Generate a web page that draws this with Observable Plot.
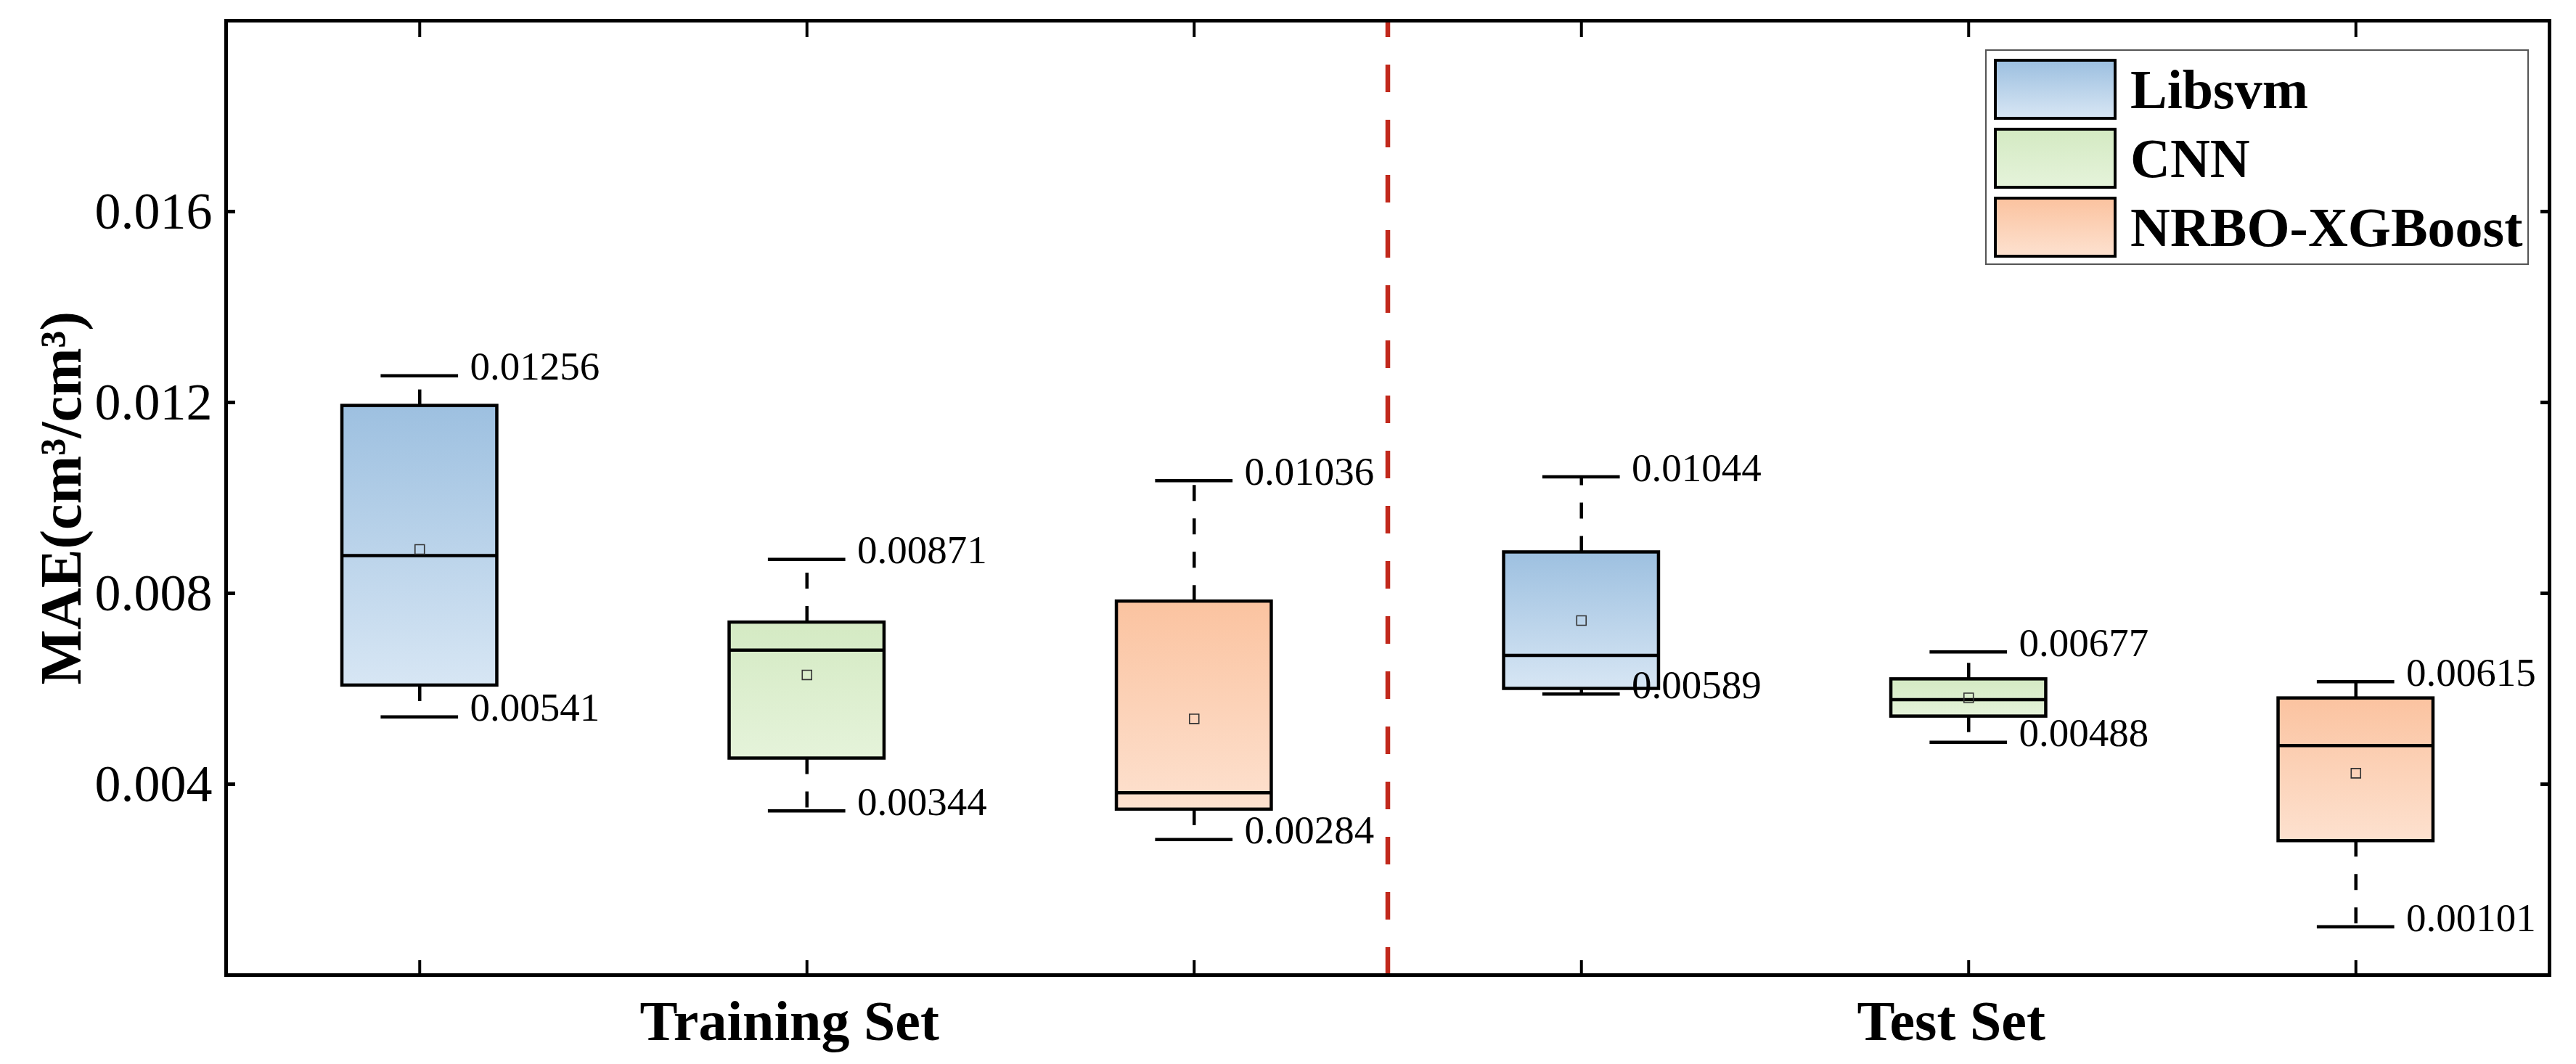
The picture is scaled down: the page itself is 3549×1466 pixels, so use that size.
<!DOCTYPE html>
<html>
<head>
<meta charset="utf-8">
<script src="https://cdn.jsdelivr.net/npm/d3@7"></script>
<script src="https://cdn.jsdelivr.net/npm/@observablehq/plot@0.6"></script>
<style>
  body { margin: 0; background: #fff; }
  #chart { position: relative; width: 3549px; height: 1466px; font-family: "Liberation Serif", "Times New Roman", serif; color: #000; }
  #legend { position: absolute; left: 2735px; top: 68px; width: 749px; height: 297px; box-sizing: border-box; border: 2px solid #555; background: #fff; }
  .sw { position: absolute; left: 10px; width: 169px; height: 84px; box-sizing: border-box; border: 4px solid #000; }
  .lt { position: absolute; left: 198px; height: 84px; line-height: 84px; font-size: 76px; font-weight: bold; white-space: nowrap; }
</style>
</head>
<body>
<div id="chart"></div>
<script>
// ---- data ----
const models = ["Libsvm", "CNN", "NRBO-XGBoost"];
const sets = ["Training Set", "Test Set"];
const boxModel = ["Libsvm", "CNN", "NRBO-XGBoost", "Libsvm", "CNN", "NRBO-XGBoost"];
const boxSet = ["Training Set", "Training Set", "Training Set", "Test Set", "Test Set", "Test Set"];
const whiskerMax = [0.01256, 0.00871, 0.01036, 0.01044, 0.00677, 0.00615];
const whiskerMin = [0.00541, 0.00344, 0.00284, 0.00589, 0.00488, 0.00101];
const q3 = [0.01193, 0.00739, 0.00783, 0.00886, 0.00620, 0.00580];
const median = [0.00879, 0.00681, 0.00382, 0.00670, 0.00577, 0.00481];
const q1 = [0.00607, 0.00454, 0.00347, 0.00600, 0.00542, 0.00281];
const mean = [0.00892, 0.00629, 0.00537, 0.00743, 0.00581, 0.00423];
const yTicks = [0.004, 0.008, 0.012, 0.016];
const yTitle = "MAE(cm³/cm³)";
const gradTop = ["#9dc0e0", "#d4eac3", "#fbc3a0"];
const gradBottom = ["#d7e6f4", "#e5f3da", "#fde1cf"];

// ---- build table ----
const boxes = boxModel.map((m, i) => ({
  pos: i + 1, model: m, set: boxSet[i],
  max: whiskerMax[i], min: whiskerMin[i], q3: q3[i], med: median[i], q1: q1[i], mean: mean[i]
}));
const setPos = sets.map(s => d3.mean(boxes.filter(b => b.set === s), b => b.pos));
const lastTrain = d3.max(boxes.filter(b => b.set === sets[0]), b => b.pos);
const firstTest = d3.min(boxes.filter(b => b.set === sets[1]), b => b.pos);
const divider = [(lastTrain + firstTest) / 2];
const gid = m => "grad-" + models.indexOf(m);

const HB = 0.2, HC = 0.1; // half box width, half cap width (x units)
const SW = 4.5;

const defs = () => {
  const ns = "http://www.w3.org/2000/svg";
  const d = document.createElementNS(ns, "defs");
  models.forEach((m, i) => {
    const lg = document.createElementNS(ns, "linearGradient");
    lg.setAttribute("id", gid(m));
    lg.setAttribute("x1", "0"); lg.setAttribute("y1", "0");
    lg.setAttribute("x2", "0"); lg.setAttribute("y2", "1");
    [[0, gradTop[i]], [1, gradBottom[i]]].forEach(([o, c]) => {
      const s = document.createElementNS(ns, "stop");
      s.setAttribute("offset", o); s.setAttribute("stop-color", c);
      lg.appendChild(s);
    });
    d.appendChild(lg);
  });
  return d;
};

const boxMarks = models.map(m => Plot.rect(boxes.filter(b => b.model === m), {
  x1: b => b.pos - HB, x2: b => b.pos + HB, y1: "q1", y2: "q3",
  fill: `url(#${gid(m)})`, stroke: "#000", strokeWidth: SW
}));

const chart = Plot.plot({
  width: 3549, height: 1466,
  marginLeft: 311, marginRight: 37, marginTop: 28, marginBottom: 123,
  style: { fontFamily: "'Liberation Serif', 'Times New Roman', serif", background: "#fff", color: "#000", overflow: "visible" },
  x: { domain: [0.5, 6.5] },
  y: { domain: [0, 0.02] },
  marks: [
    defs,
    ...boxMarks,
    Plot.ruleY(boxes, { y: "med", x1: b => b.pos - HB, x2: b => b.pos + HB, stroke: "#000", strokeWidth: SW }),
    Plot.ruleX(boxes, { x: "pos", y1: "q3", y2: "max", stroke: "#000", strokeWidth: SW, strokeDasharray: "22,24" }),
    Plot.ruleX(boxes, { x: "pos", y1: "q1", y2: "min", stroke: "#000", strokeWidth: SW, strokeDasharray: "22,24" }),
    Plot.ruleY(boxes, { y: "max", x1: b => b.pos - HC, x2: b => b.pos + HC, stroke: "#000", strokeWidth: SW }),
    Plot.ruleY(boxes, { y: "min", x1: b => b.pos - HC, x2: b => b.pos + HC, stroke: "#000", strokeWidth: SW }),
    Plot.dot(boxes, { x: "pos", y: "mean", symbol: "square", r: 7.3, fill: "none", stroke: "#333", strokeWidth: 1.6 }),
    Plot.text(boxes, { x: b => b.pos + HC, y: "max", text: b => d3.format(".5f")(b.max), textAnchor: "start", lineAnchor: "middle", dx: 16, dy: -12, fontSize: 55, fill: "#000" }),
    Plot.text(boxes, { x: b => b.pos + HC, y: "min", text: b => d3.format(".5f")(b.min), textAnchor: "start", lineAnchor: "middle", dx: 16, dy: -12, fontSize: 55, fill: "#000" }),
    Plot.ruleX(divider, { x: d => d, y1: 0, y2: 0.02, stroke: "#c1291c", strokeWidth: 6.5, strokeDasharray: "38,38" }),
    Plot.frame({ stroke: "#000", strokeWidth: 5 }),
    Plot.axisY({ anchor: "left", ticks: yTicks, tickSize: -13, strokeWidth: 5, fill: "none", label: null }),
    Plot.axisY({ anchor: "right", ticks: yTicks, tickSize: -13, strokeWidth: 5, fill: "none", label: null }),
    Plot.axisY({ anchor: "left", ticks: yTicks, tickSize: 0, tickPadding: 19, tickFormat: d3.format(".3f"), fontSize: 72, fill: "#000", label: null }),
    Plot.axisX({ anchor: "bottom", ticks: boxes.map(b => b.pos), tickSize: -20, strokeWidth: 4, fill: "none", label: null }),
    Plot.axisX({ anchor: "top", ticks: boxes.map(b => b.pos), tickSize: -22, strokeWidth: 4, fill: "none", label: null }),
    Plot.text(sets, { x: (s, i) => setPos[i], text: s => s, frameAnchor: "bottom", lineAnchor: "bottom", dy: 89, dx: -24, fontSize: 78, fontWeight: "bold", fill: "#000" }),
    Plot.text([yTitle], { text: d => d, frameAnchor: "left", textAnchor: "middle", rotate: -90, lineAnchor: "middle", dx: -226, fontSize: 80, fontWeight: "bold", fill: "#000" })
  ]
});

const root = document.getElementById("chart");
root.appendChild(chart);

// legend (inside the frame, top right)
const leg = document.createElement("div");
leg.id = "legend";
models.forEach((m, i) => {
  const sw = document.createElement("div");
  sw.className = "sw";
  sw.style.top = (11 + i * 95) + "px";
  sw.style.background = `linear-gradient(to bottom, ${gradTop[i]}, ${gradBottom[i]})`;
  const t = document.createElement("div");
  t.className = "lt";
  t.style.top = (11 + i * 95) + "px";
  t.textContent = m;
  leg.appendChild(sw); leg.appendChild(t);
});
root.appendChild(leg);
</script>
</body>
</html>
